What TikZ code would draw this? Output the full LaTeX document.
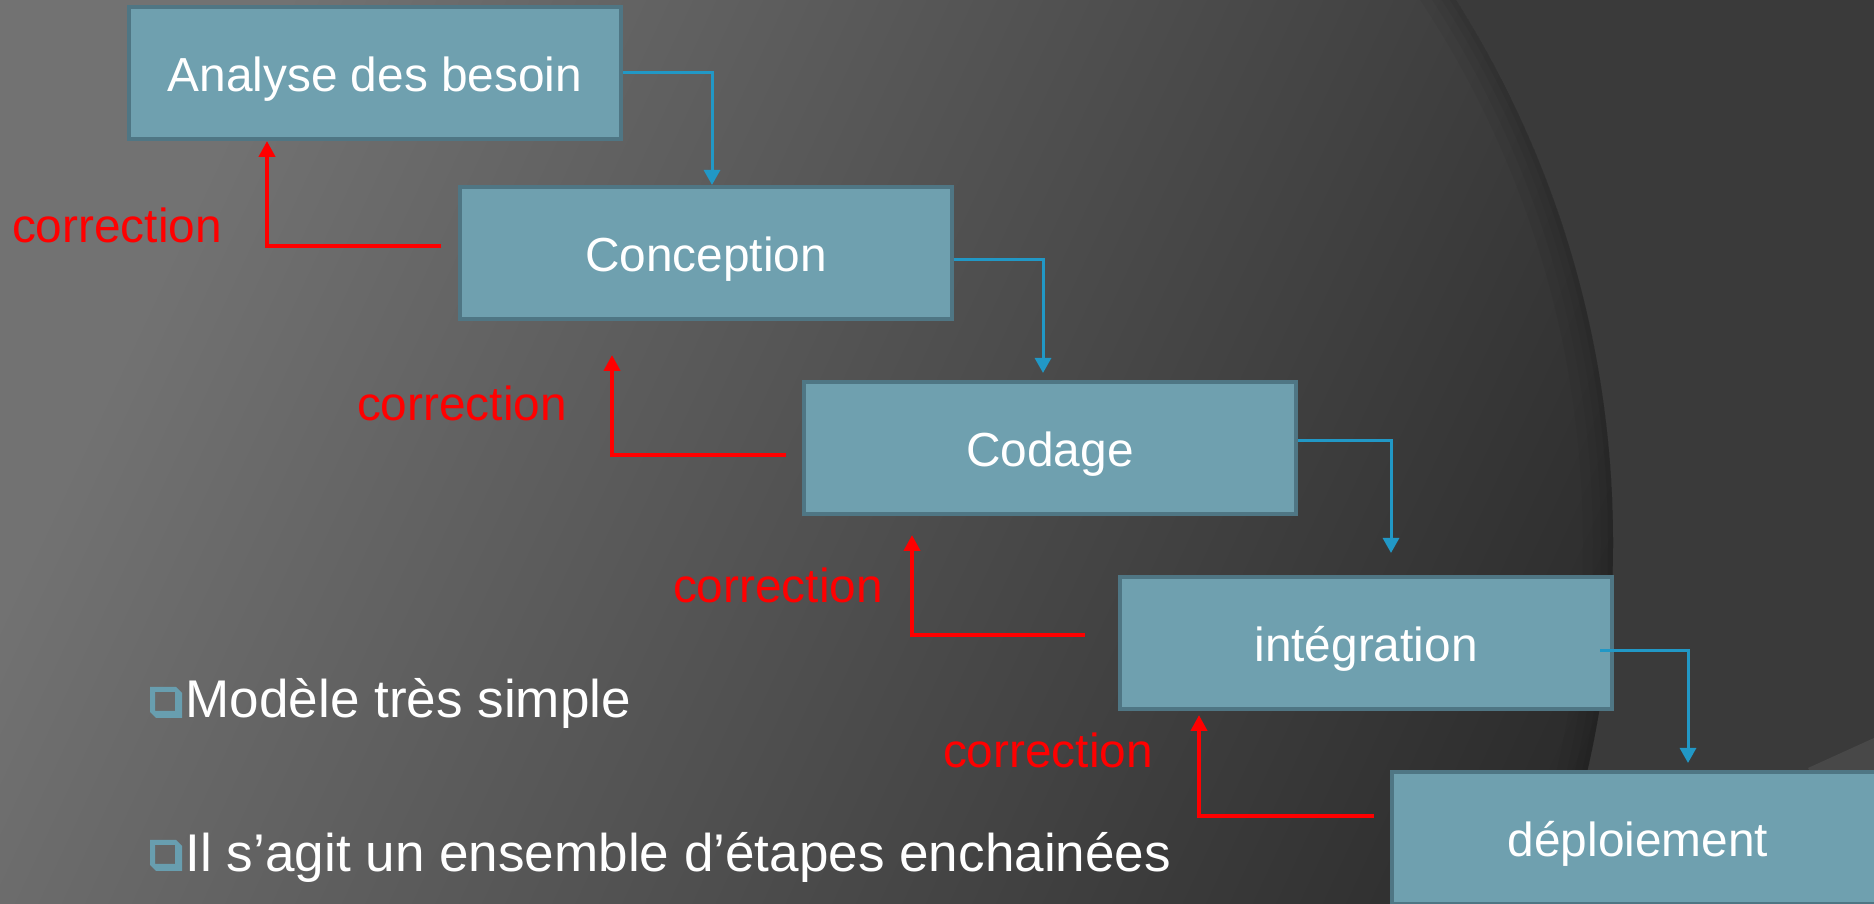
\documentclass[tikz,border=0pt]{standalone}
\usepackage{fontspec}
\setmainfont{Liberation Sans}
\usetikzlibrary{arrows.meta,calc}

\definecolor{phasefill}{RGB}{111,160,175}
\definecolor{phaseborder}{RGB}{79,118,132}
\definecolor{flowblue}{RGB}{33,152,198}
\definecolor{bulletteal}{RGB}{104,158,175}
\definecolor{bgleft}{RGB}{114,114,114}
\definecolor{bgmid}{RGB}{68,68,68}
\definecolor{bgright}{RGB}{40,40,40}
\definecolor{bgouter}{RGB}{58,58,58}
\definecolor{bgwedge}{RGB}{72,72,72}

\begin{document}
\begin{tikzpicture}[x=0.1mm, y=0.1mm]

% Define styles
\tikzstyle{phase} = [rectangle, minimum width=49.2mm, minimum height=13.2mm, text centered, draw=phaseborder, fill=phasefill, line width=0.4mm, text=white, font=\fontsize{13.6}{16}\selectfont, text height=10.8pt, text depth=0pt]
\tikzstyle{fixlabel} = [anchor=base, inner sep=0pt, text=red, font=\fontsize{13.6}{16}\selectfont]
\tikzstyle{bullettext} = [anchor=base west, inner sep=0pt, text=white, font=\fontsize{15.1}{18}\selectfont]
\tikzstyle{flowarrow} = [line width=0.3mm, flowblue, -{Triangle[width=1.6mm, length=1.5mm]}]
\tikzstyle{fixarrow} = [line width=0.45mm, red, -{Triangle[width=1.6mm, length=1.6mm]}]

% BACKGROUND
\clip (0,0) rectangle (1874,-904);
\fill [bgouter] (0,0) rectangle (1874,-904);
\fill [bgwedge] (1808,-768) -- (1874,-738) -- (1874,-904) -- cycle;
\begin{scope}
\clip (597,-543) circle (1016);
\shade [top color=bgleft, middle color=bgmid, bottom color=bgright, shading angle=65] (0,0) rectangle (1874,-904);
\draw [black, opacity=0.04, line width=6mm] (597,-543) circle (1016);
\draw [black, opacity=0.04, line width=4mm] (597,-543) circle (1016);
\draw [black, opacity=0.04, line width=2.4mm] (597,-543) circle (1016);
\draw [black, opacity=0.05, line width=1mm] (597,-543) circle (1016);
\end{scope}

% PHASES
\node (analyse) [phase] at (375,-73) {Analyse des besoin};
\node (conception) [phase] at (706,-253) {Conception};
\node (codage) [phase] at (1050,-448) {Codage};
\node (integration) [phase] at (1366,-643) {intégration};
\node (deploiement) [phase] at (1638,-838) {déploiement};

% Forward flow
\draw [flowarrow] (analyse.east) -| ($(conception.north)+(6,0)$);
\draw [flowarrow] ($(conception.east)+(0,-7)$) -| ($(codage.north)+(-7,7)$);
\draw [flowarrow] ($(codage.east)+(0,7)$) -| ($(integration.north)+(25,22)$);
\draw [flowarrow] ($(integration.east)+(-14,-8)$) -| ($(deploiement.north)+(50,7)$);

% Corrections back to previous phase
\draw [fixarrow] ($(conception.west)+(-17,7)$) -| ($(analyse.south)+(-108,0)$);
\draw [fixarrow] ($(codage.west)+(-16,-7)$) -| ($(conception.south)+(-94,-34)$);
\draw [fixarrow] ($(integration.west)+(-33,8)$) -| ($(codage.south)+(-138,-19)$);
\draw [fixarrow] ($(deploiement.west)+(-16,22)$) -| ($(integration.south)+(-167,-4)$);

\node (fix1) [fixlabel] at (117,-243) {correction};
\node (fix2) [fixlabel] at (462,-421) {correction};
\node (fix3) [fixlabel] at (778,-603) {correction};
\node (fix4) [fixlabel] at (1048,-768) {correction};

% Bullet list
\fill [bulletteal, even odd rule] (150,-687) -- (176,-687) -- (182,-693) -- (182,-718) -- (156,-718) -- (150,-712) -- cycle (155,-692) rectangle (175,-711);
\fill [bulletteal, even odd rule] (150,-840) -- (176,-840) -- (182,-846) -- (182,-871) -- (156,-871) -- (150,-865) -- cycle (155,-845) rectangle (175,-864);
\node (simple) [bullettext] at (185,-718) {Modèle très simple};
\node (etapes) [bullettext] at (185,-872) {Il s’agit un ensemble d’étapes enchainées};

\end{tikzpicture}
\end{document}
